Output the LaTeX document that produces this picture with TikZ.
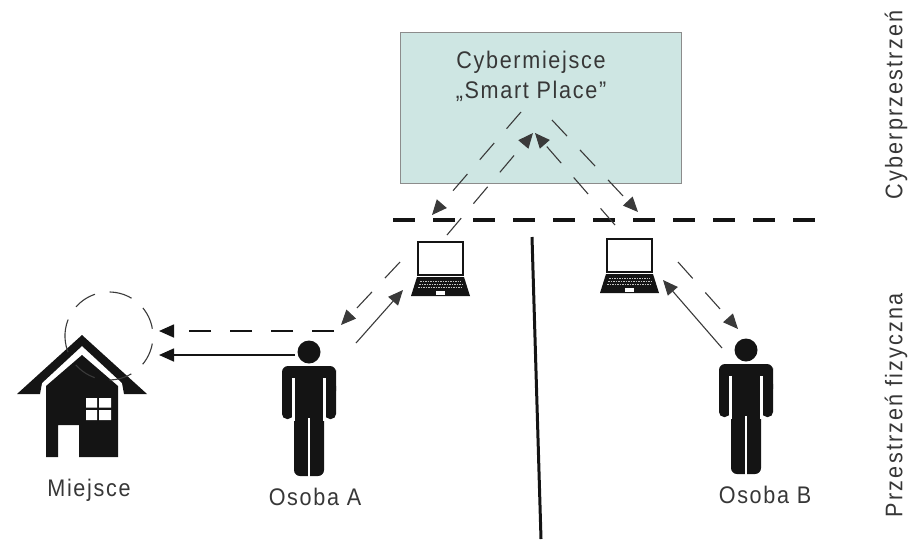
\documentclass[tikz,border=0pt]{standalone}
\usepackage{fontspec}
\setmainfont{Liberation Sans}[FakeStretch=0.9,LetterSpace=7]
\usetikzlibrary{arrows.meta}
\definecolor{ink}{HTML}{141414}
\definecolor{wire}{HTML}{3A3A3A}
\definecolor{teal}{HTML}{CEE6E3}
\tikzset{
  lbl/.style={font=\fontsize{24}{30}\selectfont,text=ink!85,inner sep=0pt,align=center},
  head/.style={-{Triangle[length=15pt,width=13pt]}},
  solidarrow/.style={head,draw=wire,line width=1.1pt},
  dasharrow/.style={head,draw=wire,line width=1.1pt,dash pattern=on 22pt off 19pt},
  person/.pic={
    \fill[ink] (0,-19) circle (11.5);
    \fill[ink] (-27,5) [rounded corners=6pt] -- (-27,-5) -- (27,-5) -- (27,5) [sharp corners] -- (27,20) -- (-27,20) -- cycle;
    \fill[ink,rounded corners=5pt] (-27,10) rectangle (-16,48);
    \fill[ink,rounded corners=5pt] (16,10) rectangle (27,48);
    \fill[ink,rounded corners=6pt] (-15,5) rectangle (15,105);
    \draw[white,line width=2.5pt] (-15.5,7) -- (-15.5,50) (15.5,7) -- (15.5,50) (0,47) -- (0,106);
  },
  laptop/.pic={
    \draw[ink,line width=2.8pt,fill=white] (0,0) rectangle (45,33);
    \fill[ink] (-1,35) -- (46,35) -- (52,54) -- (-7,54) -- cycle;
    \draw[white!75!ink,line width=1pt,dash pattern=on 1.5pt off 1pt] (2,39) -- (43,39) (1,42) -- (44,42) (0,45) -- (45,45);
    \fill[white] (18,49) rectangle (27,53);
  }
}
\begin{document}
\begin{tikzpicture}[x=1pt,y=-1pt]
\useasboundingbox (0,0) rectangle (915,539);
\node[draw=black!45,fill=teal,line width=1.2pt,minimum width=281pt,minimum height=151pt,anchor=north west,inner sep=0pt] (cyber) at (400,32) {};
\node[lbl] (cybertxt) at (531,76) {Cybermiejsce\\„Smart Place"};
% boundary lines
\coordinate (bl) at (393,220); \coordinate (br) at (815,220);
\draw[ink,line width=3.2pt,dash pattern=on 22pt off 18pt] (bl) -- (br);
\coordinate (vt) at (532,237); \coordinate (vb) at (541,539);
\draw[ink,line width=3pt] (vt) -- (vb);
% house
\begin{scope}[ink]
\fill (82,335) -- (147,394) -- (124,394) -- (122,383) -- (82,346) -- (42,383) -- (40,394) -- (17,394) -- cycle;
\fill (82,355) -- (118,386) -- (118,457) -- (79,457) -- (79,425) -- (58,425) -- (58,457) -- (46,457) -- (46,386) -- cycle;
\fill[white] (86,398) rectangle (97,407.5) (99,398) rectangle (111,407.5) (86,410) rectangle (97,420) (99,410) rectangle (111,420);
\end{scope}
\coordinate (house) at (109,336);
\draw[wire,line width=1.1pt,dash pattern=on 23pt off 15pt] (65.4,342.1) arc[start angle=172,end angle=532,radius=44];
\node[lbl] (miejsce) at (89,490) {Miejsce};
% persons
\pic (pa) at (309,371) {person};
\pic (pb) at (746,369) {person};
\node[lbl] (osobaa) at (315,497) {Osoba A};
\node[lbl] (osobab) at (765,495) {Osoba B};
% laptops
\pic (la) at (418,242) {laptop};
\pic (lb) at (607,239) {laptop};
% connector ends
\coordinate (c1) at (521,112); \coordinate (c2) at (432,215);
\coordinate (c3) at (447,235); \coordinate (c4) at (533,133);
\coordinate (c5) at (552,120); \coordinate (c6) at (638,212);
\coordinate (c7) at (615,225); \coordinate (c8) at (535,133);
\coordinate (c9) at (400,262); \coordinate (c10) at (341,325);
\coordinate (c11) at (356,343); \coordinate (c12) at (403,290);
\coordinate (c13) at (678,262); \coordinate (c14) at (738,329);
\coordinate (c15) at (722,348); \coordinate (c16) at (663,280);
\coordinate (c17) at (334,331); \coordinate (c18) at (159,331);
\coordinate (c19) at (295,355); \coordinate (c20) at (159,355);
\draw[dasharrow] (c1) -- (c2);
\draw[dasharrow] (c3) -- (c4);
\draw[dasharrow] (c5) -- (c6);
\draw[dasharrow] (c7) -- (c8);
\draw[dasharrow] (c9) -- (c10);
\draw[solidarrow] (c11) -- (c12);
\draw[dasharrow] (c13) -- (c14);
\draw[solidarrow] (c15) -- (c16);
\draw[dasharrow,draw=ink,line width=1.6pt] (c17) -- (c18);
\draw[solidarrow,draw=ink,line width=1.6pt] (c19) -- (c20);
% side labels
\node[lbl,rotate=90] (cp) at (896,105) {\addfontfeature{LetterSpace=9}Cyberprzestrzeń};
\node[lbl,rotate=90] (pf) at (896,405) {\addfontfeature{LetterSpace=9}Przestrzeń fizyczna};
\end{tikzpicture}
\end{document}
